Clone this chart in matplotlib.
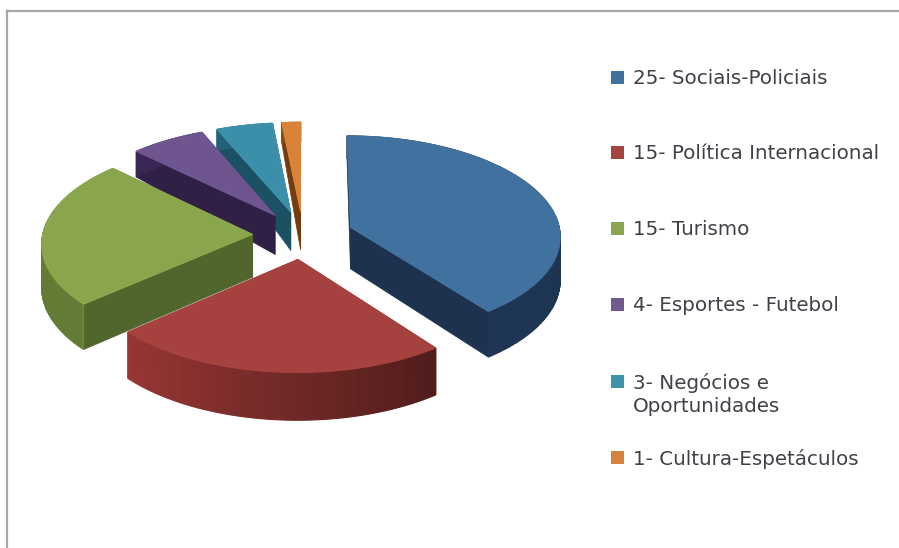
import numpy as np
import matplotlib
matplotlib.use("Agg")
import matplotlib.pyplot as plt
from matplotlib.patches import Polygon, Rectangle

# data
categories = ["25- Sociais-Policiais", "15- Política Internacional", "15- Turismo",
              "4- Esportes - Futebol", "3- Negócios e\nOportunidades", "1- Cultura-Espetáculos"]
values = [25, 15, 15, 4, 3, 1]
top_colors = ["#41719f", "#a5413e", "#8aa64c", "#6e5590", "#3c8fa8", "#d9823a"]
side_colors = ["#1d3552", "#7a2c2a", "#556b2e", "#33224a", "#1d5568", "#7a4010"]
legend_colors = ["#3f719f", "#a5443f", "#8ba452", "#71588f", "#3f94aa", "#d5823c"]
legend_y = [77, 152, 228, 304, 381, 457]

# style / camera
CX, CY, A, B, K, EXPL, DEPTH = 303, 235, 210, 100, 0.08, 0.24, 43
DRAW_ORDER = [5, 4, 3, 2, 0, 1]

W, H = 899, 548
fig = plt.figure(figsize=(W / 100, H / 100), dpi=100)
ax = fig.add_axes([0, 0, 1, 1])
ax.set_xlim(0, W)
ax.set_ylim(H, 0)
ax.axis("off")


def project(u, v, depth=False):
    w = 1 / (1 - K * v)
    drop = DEPTH * min(1.0, 1 + 0.4 * v) * w if depth else 0.0
    return CX + A * u * w, CY + B * v * w + drop


def shade(c, f):
    rgb = np.array(matplotlib.colors.to_rgb(c))
    return tuple(np.clip(rgb * f, 0, 1))


fracs = np.array(values) / sum(values) * 360
starts = np.concatenate([[0], np.cumsum(fracs)[:-1]])


def wedge(i):
    t0, t1 = starts[i], starts[i] + fracs[i]
    mid = np.radians((t0 + t1) / 2)
    ox, oy = EXPL * np.sin(mid), -EXPL * np.cos(mid)
    th = np.radians(np.linspace(t0, t1, max(4, int(fracs[i]) + 2)))
    us = ox + np.sin(th)
    vs = oy - np.cos(th)
    top = [project(u, v) for u, v in zip(us, vs)]
    bot = [project(u, v, True) for u, v in zip(us, vs)]
    apex_t = project(ox, oy)
    apex_b = project(ox, oy, True)
    side = side_colors[i]
    # cut faces
    for k in (0, -1):
        c = shade(side, 0.95)
        ax.add_patch(Polygon([apex_t, top[k], bot[k], apex_b], closed=True,
                             fc=c, ec=c, lw=0.5, zorder=2))
    # outer rim, lit by angle
    for k in range(len(top) - 1):
        a = np.degrees((th[k] + th[k + 1]) / 2)
        f = np.interp(a, [0, 142.8, 143, 229, 230, 360], [1, 1, 0.65, 1.25, 1.15, 1.15])
        c = shade(side, f)
        ax.add_patch(Polygon([top[k], top[k + 1], bot[k + 1], bot[k]], closed=True,
                             fc=c, ec=c, lw=0.8, zorder=2))
    # top face
    ax.add_patch(Polygon([apex_t] + top, closed=True, fc=top_colors[i],
                         ec=shade(top_colors[i], 1.05), lw=0.6, zorder=3))


for i in DRAW_ORDER:
    wedge(i)

# frame
ax.plot([7, 7], [H, 10.5], color="#a8a8a8", lw=1.6, zorder=1)
ax.plot([7, W], [10.5, 10.5], color="#a8a8a8", lw=1.6, zorder=1)

# legend
for name, col, y in zip(categories, legend_colors, legend_y):
    ax.add_patch(Rectangle((611, y - 6.5), 13, 13, fc=col, ec="none"))
    ax.text(633, y - 8, name, fontsize=14.3, color="#404048", family="DejaVu Sans",
            va="top", ha="left", linespacing=1.25)

fig.savefig("out.png", dpi=100)
